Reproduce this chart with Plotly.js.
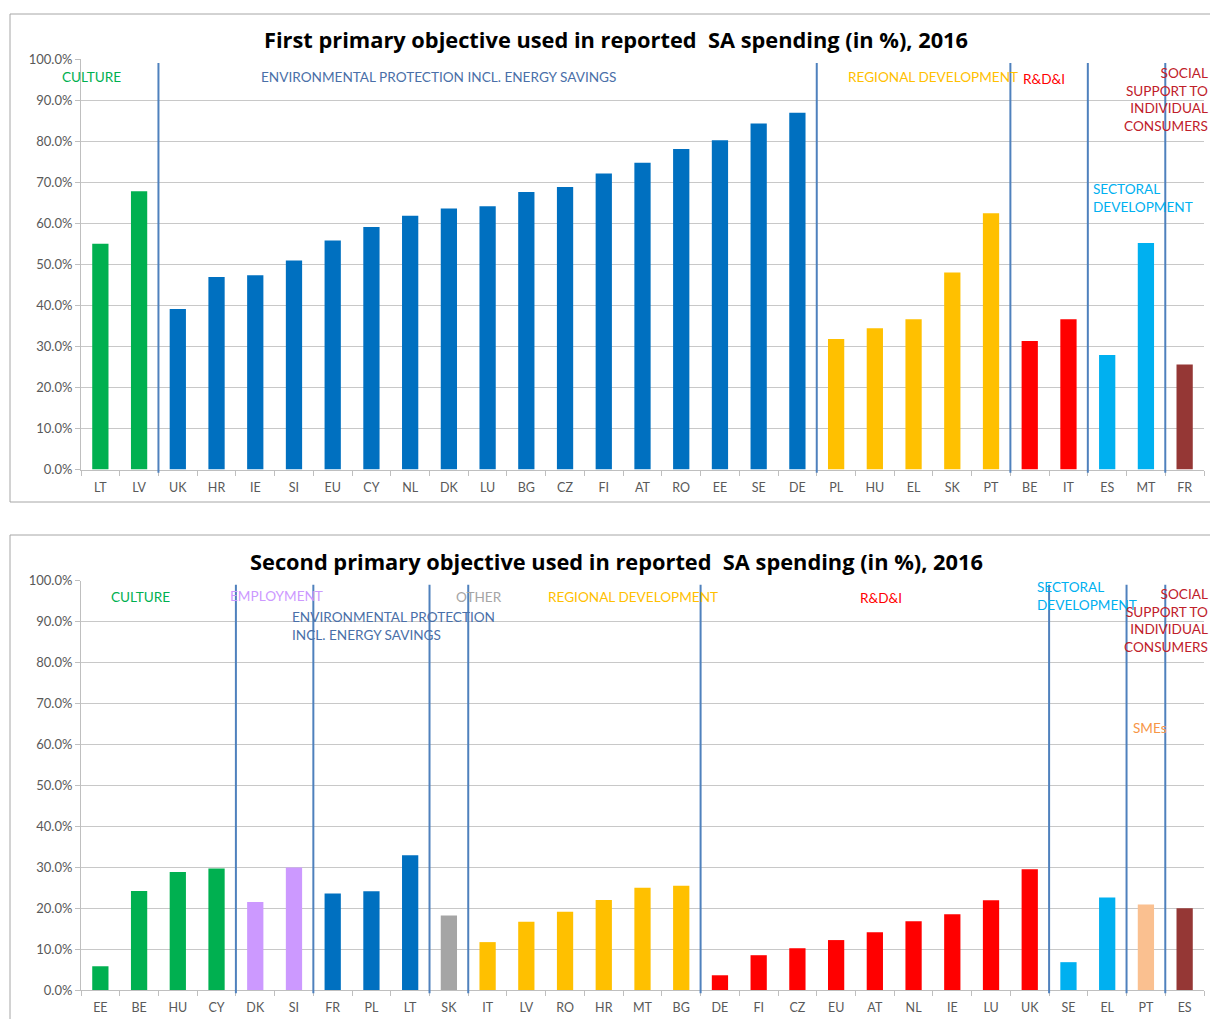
<!DOCTYPE html>
<html>
<head>
<meta charset="utf-8">
<script src="https://cdn.plot.ly/plotly-3.0.1.min.js"></script>
<style>html,body{margin:0;padding:0;background:#fff;}#chart{width:1210px;height:1019px;}</style>
</head>
<body>
<div id="chart"></div>
<script>
// ---------- DATA ----------
const categoriesFirst = ["LT","LV","UK","HR","IE","SI","EU","CY","NL","DK","LU","BG","CZ","FI","AT","RO","EE","SE","DE","PL","HU","EL","SK","PT","BE","IT","ES","MT","FR"];
const valuesFirst = [55.0,67.8,39.1,46.9,47.3,50.9,55.8,59.1,61.8,63.6,64.1,67.6,68.8,72.1,74.7,78.1,80.2,84.3,86.9,31.8,34.4,36.6,48.0,62.4,31.3,36.6,27.9,55.2,25.6];
const groupsFirst = ["culture","culture","env","env","env","env","env","env","env","env","env","env","env","env","env","env","env","env","env","regional","regional","regional","regional","regional","rdi","rdi","sectoral","sectoral","social"];

const categoriesSecond = ["EE","BE","HU","CY","DK","SI","FR","PL","LT","SK","IT","LV","RO","HR","MT","BG","DE","FI","CZ","EU","AT","NL","IE","LU","UK","SE","EL","PT","ES"];
const valuesSecond = [5.8,24.2,28.8,29.7,21.5,29.9,23.6,24.1,32.9,18.2,11.7,16.7,19.1,22.0,25.0,25.5,3.6,8.5,10.2,12.2,14.1,16.8,18.5,21.9,29.5,6.8,22.6,20.9,20.0];
const groupsSecond = ["culture","culture","culture","culture","employment","employment","env","env","env","other","regional","regional","regional","regional","regional","regional","rdi","rdi","rdi","rdi","rdi","rdi","rdi","rdi","rdi","sectoral","sectoral","smes","social"];

const titleFirst = "First primary objective used in reported\u00A0 SA spending (in %), 2016";
const titleSecond = "Second primary objective used in reported\u00A0 SA spending (in %), 2016";

// ---------- STYLE ----------
const groupColor = {
  culture: "#00B050", env: "#0070C0", regional: "#FFC000", rdi: "#FF0000",
  sectoral: "#00B0F0", social: "#953735", employment: "#CC99FF", other: "#A5A5A5", smes: "#FAC090"
};
const FONT = "Lato, 'Open Sans', sans-serif";
const TFONT = "'Open Sans', Lato, sans-serif";
const W = 1210, H = 1019;
const M = {l: 81, r: 6, t: 59, b: 29};
const PW = W - M.l - M.r, PH = H - M.t - M.b;
const px = v => (v - M.l) / PW;           // pixel x -> paper
const py = v => (H - M.b - v) / PH;       // pixel y -> paper

const traceFirst = {
  type: "bar", x: categoriesFirst, y: valuesFirst, xaxis: "x", yaxis: "y",
  marker: {color: groupsFirst.map(g => groupColor[g])}, hoverinfo: "skip", showlegend: false
};
const traceSecond = {
  type: "bar", x: categoriesSecond, y: valuesSecond, xaxis: "x2", yaxis: "y2",
  marker: {color: groupsSecond.map(g => groupColor[g])}, hoverinfo: "skip", showlegend: false
};

function xAxis(anchor) {
  return {
    type: "category", anchor: anchor, domain: [0, 1], showgrid: false,
    showline: true, linecolor: "#BFBFBF", linewidth: 1,
    ticks: "outside", tickson: "boundaries", ticklen: 5, tickcolor: "#BFBFBF",
    ticklabelstandoff: 6,
    tickfont: {family: FONT, size: 12.5, color: "#595959"}, fixedrange: true
  };
}
function yAxis(anchor, domain) {
  return {
    anchor: anchor, domain: domain, range: [0, 100], dtick: 10,
    tickformat: ".1f", ticksuffix: "%", showgrid: true, gridcolor: "#C8C8C8", gridwidth: 1,
    showline: true, linecolor: "#BFBFBF", ticks: "outside", ticklen: 5, tickcolor: "#BFBFBF",
    tickfont: {family: FONT, size: 13, color: "#595959"}, zeroline: false, fixedrange: true
  };
}

const topDomain = [py(469.5), 1];
const botDomain = [0, py(580.7)];

// divider lines (category boundaries)
const dividersFirst = [1.5, 18.5, 23.5, 25.5, 27.5];
const dividersSecond = [3.5, 5.5, 8.5, 9.5, 15.5, 24.5, 26.5, 27.5];
const lineStyle = {color: "#4F81BD", width: 2};
const shapes = [];
dividersFirst.forEach(d => shapes.push({type: "line", xref: "x", yref: "y domain", x0: d, x1: d, y0: -0.008, y1: 0.99, line: lineStyle}));
dividersSecond.forEach(d => shapes.push({type: "line", xref: "x2", yref: "y2 domain", x0: d, x1: d, y0: -0.008, y1: 0.99, line: lineStyle}));
// panel frames
shapes.push({type: "rect", xref: "paper", yref: "paper", x0: px(10), x1: px(1216), y0: py(502), y1: py(14), line: {color: "#A6A6A6", width: 1}, layer: "below"});
shapes.push({type: "rect", xref: "paper", yref: "paper", x0: px(10), x1: px(1216), y0: py(1030), y1: py(535), line: {color: "#A6A6A6", width: 1}, layer: "below"});

function label(text, x, y, color, xanchor, yanchor, align) {
  return {text: text, xref: "paper", yref: "paper", x: px(x), y: py(y), xanchor: xanchor || "left",
    yanchor: yanchor || "middle", align: align || "left", showarrow: false,
    font: {family: FONT, size: 13.6, color: color}, borderpad: 0};
}
const annotations = [
  {text: "<b>" + titleFirst + "</b>", xref: "paper", yref: "paper", x: px(616), y: py(40), xanchor: "center", yanchor: "middle", showarrow: false, font: {family: TFONT, size: 21.8, color: "#000"}},
  {text: "<b>" + titleSecond + "</b>", xref: "paper", yref: "paper", x: px(616), y: py(561), xanchor: "center", yanchor: "middle", showarrow: false, font: {family: TFONT, size: 21.8, color: "#000"}},
  label("CULTURE", 61, 77, "#00B050"),
  label("ENVIRONMENTAL PROTECTION INCL. ENERGY SAVINGS", 260, 77, "#4A6FA8"),
  label("REGIONAL DEVELOPMENT", 847, 77, "#FFC000"),
  label("R&D&I", 1022, 79, "#FF0000"),
  label("SOCIAL<br>SUPPORT TO<br>INDIVIDUAL<br>CONSUMERS", 1209, 64, "#C0202A", "right", "top", "right"),
  label("SECTORAL<br>DEVELOPMENT", 1092, 180, "#00B0F0", "left", "top"),
  label("CULTURE", 110, 597, "#00B050"),
  label("EMPLOYMENT", 229, 596, "#CC99FF"),
  label("ENVIRONMENTAL PROTECTION<br>INCL. ENERGY SAVINGS", 291, 608, "#4A6FA8", "left", "top"),
  label("OTHER", 455, 597, "#A5A5A5"),
  label("REGIONAL DEVELOPMENT", 547, 597, "#FFC000"),
  label("R&D&I", 859, 598, "#FF0000"),
  label("SECTORAL<br>DEVELOPMENT", 1036, 578, "#00B0F0", "left", "top"),
  label("SOCIAL<br>SUPPORT TO<br>INDIVIDUAL<br>CONSUMERS", 1209, 585, "#C0202A", "right", "top", "right"),
  label("SMEs", 1132, 728, "#F79646")
];

const layout = {
  width: W, height: H, margin: M, paper_bgcolor: "#fff", plot_bgcolor: "#fff",
  bargap: 0.58, showlegend: false,
  xaxis: xAxis("y"), yaxis: yAxis("x", topDomain),
  xaxis2: xAxis("y2"), yaxis2: yAxis("x2", botDomain),
  shapes: shapes, annotations: annotations
};
Plotly.newPlot("chart", [traceFirst, traceSecond], layout, {displayModeBar: false, staticPlot: true});
</script>
</body>
</html>
